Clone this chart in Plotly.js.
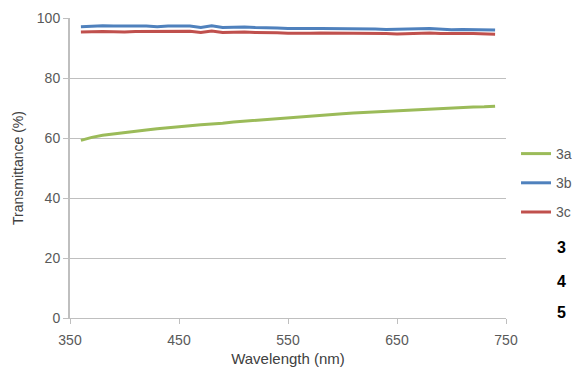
<!DOCTYPE html>
<html>
<head>
<meta charset="utf-8">
<script src="https://cdn.plot.ly/plotly-3.0.1.min.js"></script>
<style>html,body{margin:0;padding:0;background:#fff;overflow:hidden}#chart{width:572px;height:368px}</style>
</head>
<body>
<div id="chart"></div>
<script>
const wavelength = [360,370,380,390,400,410,420,430,440,450,460,470,480,490,500,510,520,530,540,550,560,570,580,590,600,610,620,630,640,650,660,670,680,690,700,710,720,730,740];
const t3a = [59.2,60.2,60.9,61.4,61.9,62.3,62.7,63.1,63.5,63.8,64.1,64.4,64.6,64.9,65.3,65.6,65.9,66.2,66.5,66.8,67.0,67.2,67.5,67.9,68.1,68.3,68.5,68.7,68.9,69.1,69.3,69.5,69.7,69.8,70.0,70.1,70.3,70.4,70.6];
const t3b = [97.1,97.3,97.4,97.3,97.2,97.3,97.3,97.1,97.3,97.3,97.3,96.8,97.4,96.8,96.9,97.0,96.8,96.8,96.7,96.5,96.4,96.5,96.5,96.5,96.5,96.4,96.4,96.3,96.2,96.2,96.3,96.4,96.5,96.2,96.1,96.2,96.2,96.2,96.0];
const t3c = [95.3,95.5,95.5,95.4,95.3,95.5,95.5,95.4,95.6,95.6,95.6,95.2,95.7,95.2,95.3,95.3,95.2,95.2,95.1,94.9,94.8,94.9,95.0,95.0,94.9,94.9,94.9,94.8,94.8,94.7,94.8,94.9,95.0,94.8,94.7,94.8,94.8,94.8,94.6];
const seriesNames = ["3a","3b","3c"];
const seriesColors = ["#9bbb59","#4f81bd","#c0504d"];
const xTicks = [350,450,550,650,750];
const yTicks = [0,20,40,60,80,100];
const sideLabels = ["3","4","5"];

const data = [t3a,t3b,t3c].map((y,i)=>({
  x: wavelength, y: y, type:'scatter', mode:'lines', name: seriesNames[i],
  legendgroup: 'g'+i,
  line:{color: seriesColors[i], width:3}
}));

const layout = {
  width:572, height:368,
  margin:{l:70, r:66, t:18, b:50, autoexpand:false},
  paper_bgcolor:'#fff', plot_bgcolor:'#fff',
  font:{family:'Arial, Liberation Sans, sans-serif', color:'#595959', size:14},
  xaxis:{
    range:[350,750], tickvals:xTicks, showgrid:false, zeroline:false,
    showline:true, linecolor:'#bfbfbf', linewidth:1,
    ticks:'outside', ticklen:5, tickcolor:'#bfbfbf', ticklabelstandoff:4,
    title:{text:'Wavelength (nm)', font:{size:15, color:'#404040'}, standoff:6},
    fixedrange:true, automargin:false
  },
  yaxis:{
    range:[0,100], tickvals:yTicks, showgrid:true, gridcolor:'#bfbfbf', gridwidth:1,
    zeroline:false, showline:true, linecolor:'#bfbfbf', linewidth:2,
    ticks:'outside', ticklen:5, tickcolor:'#bfbfbf',
    title:{text:'Transmittance (%)', font:{size:14, color:'#404040'}, standoff:10},
    fixedrange:true, automargin:false
  },
  showlegend:true,
  legend:{x:1.023, y:0.60, xanchor:'left', yanchor:'top', traceorder:'grouped',
    tracegroupgap:8, font:{size:14, color:'#595959'}, itemwidth:30, bgcolor:'rgba(0,0,0,0)'},
  annotations: sideLabels.map((t,i)=>({
    text:'<b>'+t+'</b>', xref:'paper', yref:'paper', x:1.112, y:[(318-248)/300,(318-281)/300,(318-312)/300][i],
    xanchor:'left', yanchor:'middle', showarrow:false, font:{size:16, color:'#000'}
  }))
};
Plotly.newPlot('chart', data, layout, {displayModeBar:false, staticPlot:true});
</script>
</body>
</html>
